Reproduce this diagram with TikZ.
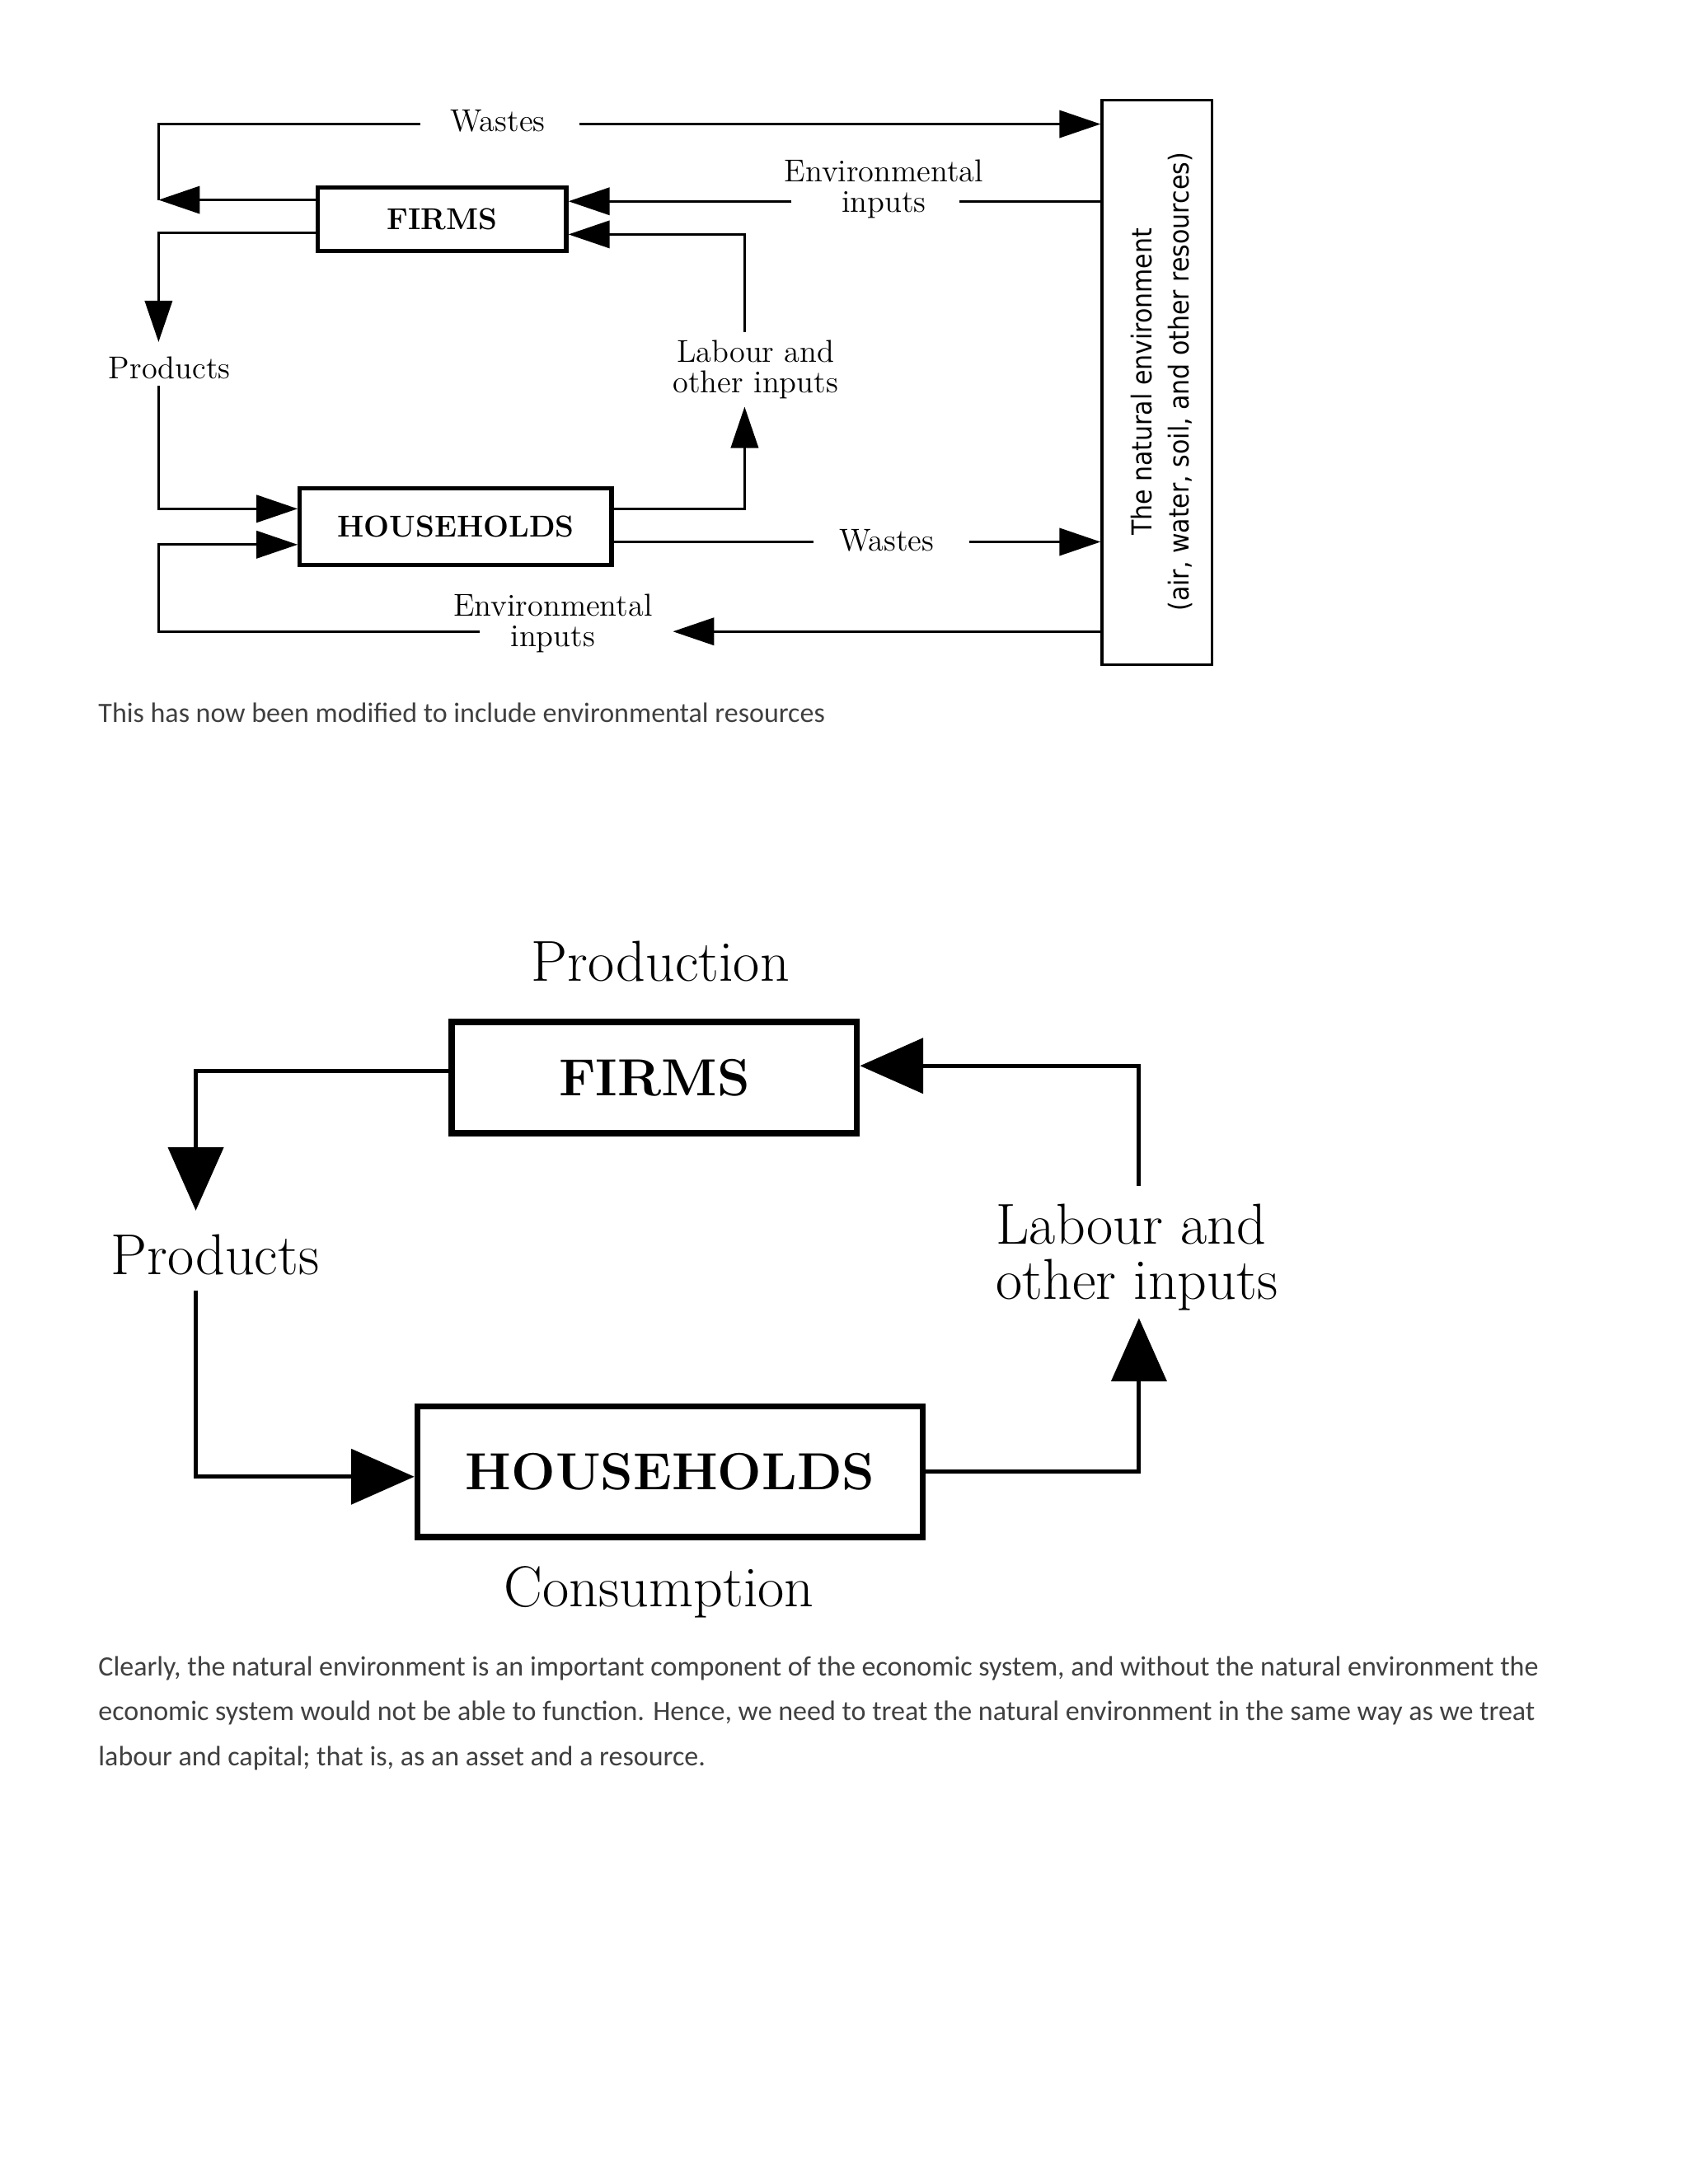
\documentclass[tikz,border=0pt]{standalone}
\usepackage{fontspec}
\newfontfamily\bodyfont{Carlito}
\newfontfamily\envfont{DejaVu Sans Condensed}
\usetikzlibrary{arrows.meta}

\tikzset{
  box/.style={draw,line width=1.6pt,inner sep=0pt},
  bigbox/.style={draw,line width=2.2pt,inner sep=0pt},
  flow/.style={line width=0.8pt},
  bigflow/.style={line width=1.5pt},
  tip/.style={-{Triangle[length=15pt,width=10pt]}},
  bigtip/.style={-{Triangle[length=23pt,width=20pt]}},
  lbl/.style={font=\fontsize{11.5}{13}\selectfont,align=center,inner sep=1pt},
  biglbl/.style={font=\fontsize{21}{24}\selectfont,inner sep=1pt},
}

\begin{document}
\begin{tikzpicture}[line cap=butt,line join=miter,x=0.01764cm,y=-0.01764cm]
\useasboundingbox[fill=white] (0,0) rectangle (1224,1584);
%% first diagram
\node[box,minimum width=181*0.5pt,minimum height=46*0.5pt] (firms) at (320.5,159) {\bfseries\fontsize{11}{12}\selectfont FIRMS};
\node[box,minimum width=227*0.5pt,minimum height=56*0.5pt] (hh) at (330.5,382) {\bfseries\fontsize{11}{12}\selectfont HOUSEHOLDS};
\node[draw,line width=1pt,minimum width=80*0.5pt,minimum height=411*0.5pt,inner sep=0pt] (env) at (839,277.5) {};
\node[rotate=90,font=\envfont\fontsize{10}{11}\selectfont] at (828,277) {The natural environment};
\node[rotate=90,font=\envfont\fontsize{10}{11}\selectfont] at (856,277) {(air, water, soil, and other resources)};
\node[lbl] (wastesA) at (361,88) {Wastes};
\node[lbl] (envinA) at (641,137) {Environmental\\[-2pt]inputs};
\node[lbl] (labour) at (548,268) {Labour and\\[-2pt]other inputs};
\node[lbl] (prodA) at (123,267) {Products};
\node[lbl] (wastesB) at (643,392) {Wastes};
\node[lbl] (envinB) at (401,452) {Environmental\\[-2pt]inputs};
\coordinate (lw) at (115,145);
% wastes from firms
\draw[flow,tip] (firms.west |- lw) -- (lw);
\draw[flow] (lw) -- (115,90) -- (305,90);
\draw[flow,tip] (420,90) -- (env.west |- 0,90);
% environmental inputs to firms
\draw[flow] (env.west |- 0,146) -- (696,146);
\draw[flow,tip] (574,146) -- (firms.east |- 0,146);
% labour
\draw[flow,tip] (hh.east |- 0,369) -- (540,369) -- (540,295);
\draw[flow,tip] (540,241) -- (540,170) -- (firms.east |- 0,170);
% products
\draw[flow,tip] (firms.west |- 0,169) -- (115,169) -- (115,248);
\draw[flow,tip] (115,280) -- (115,369) -- (hh.west |- 0,369);
% wastes from households
\draw[flow] (hh.east |- 0,393) -- (590,393);
\draw[flow,tip] (703,393) -- (env.west |- 0,393);
% environmental inputs to households
\draw[flow,tip] (env.west |- 0,458) -- (488,458);
\draw[flow,tip] (348,458) -- (115,458) -- (115,395) -- (hh.west |- 0,395);
\node[anchor=west,font=\bodyfont\fontsize{10.2}{12}\selectfont,text=black!75,inner sep=0pt] (capA) at (71,517) {This has now been modified to include environmental resources};
%% second diagram
\node[bigbox,minimum width=295*0.5pt,minimum height=81*0.5pt] (firms2) at (474.5,781.5) {\bfseries\fontsize{19}{21}\selectfont FIRMS};
\node[bigbox,minimum width=368*0.5pt,minimum height=95*0.5pt] (hh2) at (486,1067.5) {\bfseries\fontsize{19}{21}\selectfont HOUSEHOLDS};
\node[biglbl] (prod) at (479,697) {Production};
\node[biglbl] (cons) at (478,1155) {Consumption};
\node[biglbl] (prodB) at (156,910) {Products};
\node[biglbl,align=left,anchor=west] (labour2) at (720,912) {Labour and\\[-4pt]other inputs};
\draw[bigflow,bigtip] (firms2.west |- 0,777) -- (142,777) -- (142,878);
\draw[bigflow,bigtip] (142,936) -- (142,1071) -- (hh2.west |- 0,1071);
\draw[bigflow,bigtip] (hh2.east |- 0,1067) -- (826,1067) -- (826,956);
\draw[bigflow,bigtip] (826,860) -- (826,773) -- (firms2.east |- 0,773);
\node[anchor=north west,font=\bodyfont\fontsize{10.2}{12}\selectfont,text=black!75,inner sep=0pt,align=left] (capB) at (71,1201) {Clearly, the natural environment is an important component of the economic system, and without the natural environment the\\[4.3pt]economic system would not be able to function. Hence, we need to treat the natural environment in the same way as we treat\\[4.3pt]labour and capital; that is, as an asset and a resource.};
\end{tikzpicture}
\end{document}
